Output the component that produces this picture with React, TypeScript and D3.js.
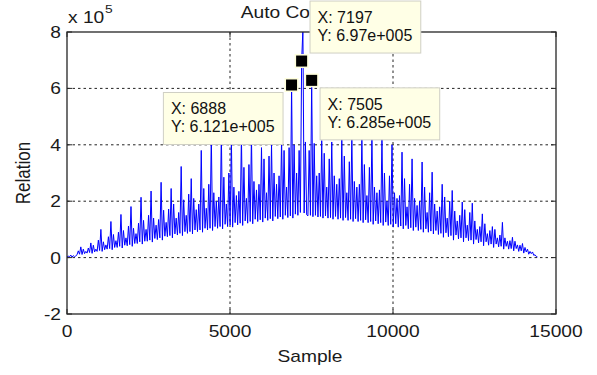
import React from 'react';
import * as d3 from 'd3';

// ---- data (values in units of 1e3, one stored value every SAMPLE_STEP samples) ----
const SAMPLE_STEP = 38.49;
const relationRows: number[][] = [
  [2, 5, 3, 9, 2, 7, 3, 6],
  [10, 24, 12, 38, 11, 30, 14, 22],
  [16, 34, 18, 52, 15, 44, 20, 30],
  [22, 62, 25, 100, 22, 56, 28, 45],
  [30, 74, 32, 128, 28, 82, 36, 60],
  [36, 90, 40, 153, 34, 96, 44, 70],
  [42, 112, 46, 181, 40, 104, 50, 85],
  [50, 122, 56, 214, 48, 132, 58, 100],
  [58, 150, 62, 236, 55, 140, 68, 115],
  [64, 135, 70, 267, 62, 168, 76, 125],
  [74, 172, 78, 245, 70, 190, 84, 140],
  [80, 160, 86, 323, 78, 205, 92, 150],
  [86, 225, 92, 280, 84, 210, 98, 170],
  [92, 190, 98, 380, 90, 245, 104, 175],
  [98, 260, 104, 430, 96, 230, 110, 200],
  [104, 215, 110, 440, 102, 285, 118, 190],
  [110, 300, 116, 420, 108, 250, 124, 220],
  [116, 235, 122, 430, 114, 320, 130, 210],
  [122, 330, 128, 430, 120, 270, 136, 240],
  [128, 260, 134, 390, 126, 350, 140, 230],
  [132, 360, 138, 400, 130, 300, 146, 260],
  [138, 290, 144, 420, 136, 380, 150, 250],
  [142, 390, 148, 612.1, 140, 400, 154, 300],
  [150, 380, 160, 697, 810, 158, 410, 152],
  [148, 380, 150, 628.5, 145, 405, 150, 290],
  [144, 300, 146, 415, 140, 370, 148, 250],
  [140, 350, 142, 410, 136, 290, 146, 260],
  [136, 280, 140, 420, 132, 360, 142, 230],
  [132, 340, 136, 430, 128, 270, 138, 250],
  [128, 260, 132, 430, 124, 330, 134, 220],
  [124, 320, 128, 430, 118, 250, 130, 230],
  [120, 240, 124, 425, 114, 300, 126, 200],
  [114, 290, 118, 400, 108, 230, 120, 210],
  [108, 220, 112, 374, 102, 280, 114, 180],
  [102, 260, 106, 350, 96, 210, 108, 185],
  [96, 200, 100, 339, 90, 250, 102, 160],
  [90, 230, 94, 303, 84, 190, 96, 165],
  [82, 180, 86, 260, 72, 215, 88, 140],
  [74, 200, 78, 238, 62, 165, 80, 130],
  [66, 150, 70, 197, 56, 170, 70, 115],
  [60, 160, 62, 193, 48, 130, 64, 100],
  [52, 110, 56, 155, 42, 120, 56, 85],
  [44, 96, 48, 110, 36, 100, 48, 70],
  [38, 80, 40, 125, 30, 70, 40, 58],
  [30, 60, 32, 72, 24, 58, 32, 45],
  [22, 44, 24, 50, 16, 36, 20, 30],
  [12, 22, 14, 20, 8, 10, 4, 2],
];
const relation: number[] = relationRows.flat();

const xTicks = [0, 5000, 10000, 15000];
const yTicks = [-2, 0, 2, 4, 6, 8]; // x 10^5
const tipX = [7197, 6888, 7505];
const tipY = [6.97e5, 6.121e5, 6.285e5];
const tipYLabel = ['6.97e+005', '6.121e+005', '6.285e+005'];

const titleText = 'Auto Correlation';
const xLabel = 'Sample';
const yLabel = 'Relation';

// ---- layout ----
const W = 597;
const H = 375;
const L = 67, R = 556, T = 32, B = 314;
const FONT = '"Liberation Sans", Arial, Helvetica, sans-serif';
const STRETCH = 1.2;
const tipPlacement = ['ne', 'sw', 'se'];

function measure(s: string, size: number): number {
  try {
    const ctx = document.createElement('canvas').getContext('2d');
    if (ctx) {
      ctx.font = `${size}px "Liberation Sans", Arial, sans-serif`;
      return ctx.measureText(s).width;
    }
  } catch (e) {}
  return s.length * size * 0.55;
}

export default function App() {
  const x = d3.scaleLinear().domain([0, 15000]).range([L, R]);
  const y = d3.scaleLinear().domain([-2e5, 8e5]).range([B, T]);

  const line = d3
    .line<number>()
    .x((_, i) => x(i * SAMPLE_STEP))
    .y((d) => y(d * 1e3));
  const path = line(relation) || '';

  const axisColor = '#262626';
  const tickLen = 5;

  return (
    <svg
      width={W}
      height={H}
      style={{ position: 'absolute', left: 0, top: 0, background: '#fff' }}
      fontFamily={FONT}
    >
      <defs>
        <clipPath id="plotClip">
          <rect x={L} y={T} width={R - L} height={B - T} />
        </clipPath>
      </defs>
      <rect x={0} y={0} width={W} height={H} fill="#fff" />

      {/* grid */}
      {xTicks
        .filter((t) => t > 0 && t < 15000)
        .map((t) => (
          <line key={'gx' + t} x1={x(t)} x2={x(t)} y1={T} y2={B} stroke="#222" strokeWidth={1} strokeDasharray="2.5,3" />
        ))}
      {yTicks
        .filter((t) => t > -2 && t < 8)
        .map((t) => (
          <line key={'gy' + t} x1={L} x2={R} y1={y(t * 1e5)} y2={y(t * 1e5)} stroke="#222" strokeWidth={1} strokeDasharray="2.5,3" />
        ))}

      {/* data */}
      <path d={path} fill="none" stroke="#0000ff" strokeWidth={1} clipPath="url(#plotClip)" strokeLinejoin="miter" />

      {/* box */}
      <rect x={L} y={T} width={R - L} height={B - T} fill="none" stroke={axisColor} strokeWidth={1.3} />

      {/* ticks */}
      {xTicks.map((t) => (
        <g key={'tx' + t}>
          <line x1={x(t)} x2={x(t)} y1={B} y2={B - tickLen} stroke={axisColor} />
          <line x1={x(t)} x2={x(t)} y1={T} y2={T + tickLen} stroke={axisColor} />
        </g>
      ))}
      {yTicks.map((t) => (
        <g key={'ty' + t}>
          <line x1={L} x2={L + tickLen} y1={y(t * 1e5)} y2={y(t * 1e5)} stroke={axisColor} />
          <line x1={R} x2={R - tickLen} y1={y(t * 1e5)} y2={y(t * 1e5)} stroke={axisColor} />
        </g>
      ))}

      {/* tick labels */}
      {xTicks.map((t) => (
        <text
          key={'lx' + t}
          transform={`translate(${x(t)},337) scale(${STRETCH},1)`}
          textAnchor="middle"
          fontSize={16}
          fill="#1a1a1a"
        >
          {String(t)}
        </text>
      ))}
      {yTicks.map((t) => (
        <text
          key={'ly' + t}
          transform={`translate(61,${y(t * 1e5) + 6}) scale(${STRETCH},1)`}
          textAnchor="end"
          fontSize={16}
          fill="#1a1a1a"
        >
          {String(t)}
        </text>
      ))}

      {/* exponent */}
      <text transform={`translate(68,23) scale(${STRETCH},1)`} fontSize={16} fill="#1a1a1a">
        x 10
      </text>
      <text transform={`translate(105,13) scale(${STRETCH},1)`} fontSize={11.5} fill="#1a1a1a">
        5
      </text>

      {/* axis labels and title */}
      <text
        transform={`translate(310,362) scale(${STRETCH},1)`}
        textAnchor="middle"
        fontSize={16}
        fill="#1a1a1a"
      >
        {xLabel}
      </text>
      <text
        transform={`translate(30,173) scale(${STRETCH},1) rotate(-90)`}
        textAnchor="middle"
        fontSize={17}
        fill="#1a1a1a"
      >
        {yLabel}
      </text>
      <text
        transform={`translate(310,18) scale(${STRETCH},1)`}
        textAnchor="middle"
        fontSize={16}
        fill="#1a1a1a"
      >
        {titleText}
      </text>

      {/* data tips */}
      {tipX.map((tx, i) => {
        const mx = x(tx);
        const my = y(tipY[i]);
        const l1 = `X: ${tx}`;
        const l2 = `Y: ${tipYLabel[i]}`;
        const w = Math.max(measure(l1, 16), measure(l2, 16)) + 16;
        const h = 52;
        const p = tipPlacement[i];
        const bx = p === 'sw' ? mx - 8.5 - w : mx + 8.4;
        const by = p === 'ne' ? my - 8 - h : my + 7.5;
        return (
          <g key={'tip' + i}>
            <rect x={bx} y={by} width={w} height={h} fill="#ffffe6" stroke="#cfcfc4" strokeWidth={1} />
            <text x={bx + 7.5} y={by + 22} fontSize={16} fill="#111">
              {l1}
            </text>
            <text x={bx + 7.5} y={by + 40} fontSize={16} fill="#111">
              {l2}
            </text>
          </g>
        );
      })}
      {tipX.map((tx, i) => {
        const mx = x(tx);
        const my = y(tipY[i]);
        return (
          <g key={'mk' + i}>
            <rect x={mx - 7} y={my - 7} width={14} height={14} fill="#ffffdc" />
            <rect x={mx - 5.5} y={my - 5.5} width={11} height={11} fill="#000" />
          </g>
        );
      })}
    </svg>
  );
}
